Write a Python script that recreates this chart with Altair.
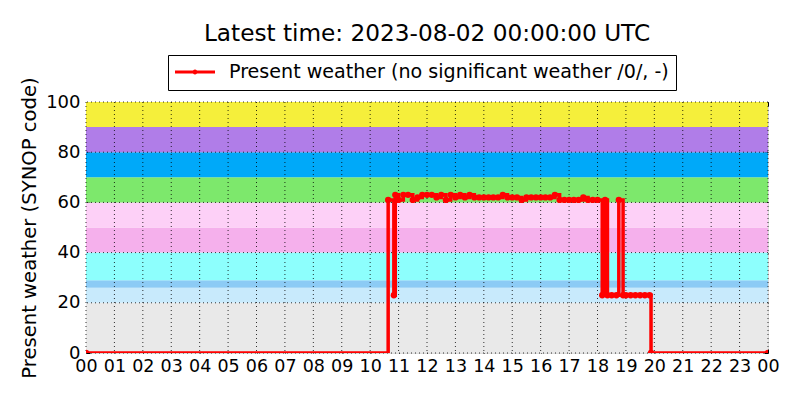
import altair as alt
import pandas as pd

# ---- data ----
times = ["00:00", "10:38", "10:50", "10:53",
         "11:00", "11:10", "11:20", "11:30", "11:40", "11:50",
         "12:00", "12:10", "12:20", "12:30", "12:40", "12:50",
         "13:00", "13:10", "13:20", "13:30", "13:40", "13:50",
         "14:00", "14:10", "14:20", "14:30", "14:40", "14:50",
         "15:00", "15:10", "15:20", "15:30", "15:40", "15:50",
         "16:00", "16:10", "16:20", "16:30", "16:40", "16:50",
         "17:00", "17:10", "17:20", "17:30", "17:40", "17:50",
         "18:00", "18:10", "18:16", "18:21", "18:30", "18:40", "18:45", "18:54",
         "19:00", "19:10", "19:20", "19:30", "19:40", "19:50", "19:53", "24:00"]
codes = [0, 61, 23, 63,
         61, 63, 63, 61, 62, 63,
         63, 63, 62, 63, 61, 63,
         62, 63, 62, 63, 62, 62,
         62, 62, 62, 62, 63, 62,
         62, 62, 61, 62, 62, 62,
         62, 62, 62, 63, 61, 61,
         61, 61, 61, 62, 61, 61,
         61, 23, 61, 23, 23, 23, 61, 23,
         23, 23, 23, 23, 23, 23, 0, 0]

band_low = [0, 20, 26, 29, 40, 50, 60, 70, 80, 90]
band_high = [20, 26, 29, 40, 50, 60, 70, 80, 90, 100]
band_colors = ["#e9e9e9", "#c8eafc", "#8ccbf5", "#8dfffd", "#f5b0ec",
               "#fdd0f7", "#7de86c", "#00a9f9", "#b07de8", "#f5ef3b"]

hour_ticks = list(range(0, 25))
y_ticks = [0, 20, 40, 60, 80, 100]
series_label = "Present weather (no significant weather /0/, -)"
title_text = "Latest time: 2023-08-02 00:00:00 UTC"

FONT = "DejaVu Sans"
W, H = 682, 251

def to_hours(t):
    h, m = t.split(":")
    return int(h) + int(m) / 60.0

df = pd.DataFrame({"hour": [to_hours(t) for t in times], "code": codes,
                   "series": series_label})
bands = pd.DataFrame({"lo": band_low, "hi": band_high, "c": band_colors})
vgrid = pd.DataFrame({"h": hour_ticks})
hgrid = pd.DataFrame({"v": y_ticks})

xs = alt.Scale(domain=[0, 24], nice=False, zero=False)
ys = alt.Scale(domain=[0, 100], nice=False)

label_expr = "(datum.value % 24 < 10 ? '0' : '') + (datum.value % 24)"

bands_layer = alt.Chart(bands).mark_rect().encode(
    x=alt.datum(0, scale=xs, axis=alt.Axis(
        values=hour_ticks, labelExpr=label_expr, title=None, grid=False,
        domain=False, ticks=True, tickSize=4, tickColor="black", offset=-4,
        labelPadding=4, labelFontSize=17.5, labelFont=FONT, labelColor="black",
        labelFlush=False, labelOverlap=False)),
    x2=alt.datum(24),
    y=alt.Y("lo:Q", scale=ys, axis=alt.Axis(
        values=y_ticks, title="Present weather (SYNOP code)", grid=False,
        domain=False, ticks=True, tickSize=4, tickColor="black", offset=-4,
        labelPadding=6, labelFontSize=18, labelFont=FONT, labelColor="black",
        titleFontSize=19.6, titleFont=FONT, titleFontWeight="normal",
        titleColor="black", titlePadding=6, labelFlush=False)),
    y2="hi:Q",
    color=alt.Color("c:N", scale=None),
)

vgrid_layer = alt.Chart(vgrid).mark_rule(
    color="black", strokeWidth=1, strokeDash=[1, 3], opacity=0.8
).encode(
    x=alt.X("h:Q", scale=xs, axis=alt.Axis(
        orient="top", values=hour_ticks, labels=False, title=None, grid=False,
        domain=False, ticks=True, tickSize=4, tickColor="black", offset=-4)),
)

hgrid_layer = alt.Chart(hgrid).mark_rule(
    color="black", strokeWidth=1, strokeDash=[1, 3], opacity=0.8
).encode(
    y=alt.Y("v:Q", scale=ys, axis=alt.Axis(
        orient="right", values=y_ticks, labels=False, title=None, grid=False,
        domain=False, ticks=True, tickSize=4, tickColor="black", offset=-4)),
)

legend_path = ("M-1,-0.15L3,-0.15L3,0.15L-1,0.15Z"
               "M1.25,0A0.25,0.25,0,1,1,0.75,0A0.25,0.25,0,1,1,1.25,0Z")

line_layer = alt.Chart(df).mark_line(
    interpolate="step-after", strokeWidth=3.5, clip=True,
    point=alt.OverlayMarkDef(filled=True, size=40, color="red", clip=True)
).encode(
    x=alt.X("hour:Q", scale=xs, axis=None),
    y=alt.Y("code:Q", scale=ys, axis=None),
    color=alt.Color("series:N", scale=alt.Scale(domain=[series_label], range=["red"]),
                    legend=alt.Legend(
                        title=None, orient="none", legendX=82, legendY=-47,
                        symbolType=legend_path, symbolSize=400,
                        symbolFillColor="red", symbolStrokeColor="red",
                        symbolStrokeWidth=0, labelLimit=0,
                        labelFontSize=19.1, labelFont=FONT, labelColor="black",
                        labelOffset=34, padding=7, strokeColor="black",
                        fillColor="white", cornerRadius=0)),
)

chart = alt.layer(bands_layer, vgrid_layer, hgrid_layer, line_layer).resolve_axis(
    x="independent", y="independent"
).properties(
    width=W, height=H,
    title=alt.TitleParams(title_text, fontSize=23.2, font=FONT, fontWeight="normal",
                          color="black", anchor="middle", offset=8, frame="group"),
    autosize=alt.AutoSizeParams(type="none"),
    padding={"left": 78, "top": 94, "right": 24, "bottom": 39},
).configure_view(stroke="black", strokeWidth=1).configure(background="white")

chart.save("out.html", embed_options={"renderer": "svg", "actions": False})
